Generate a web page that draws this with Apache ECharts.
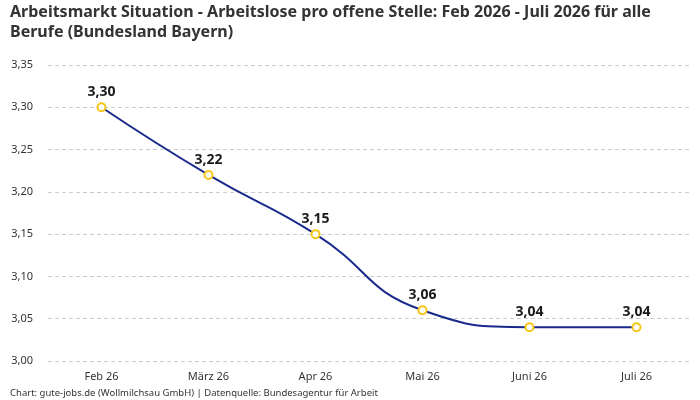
<!DOCTYPE html>
<html>
<head>
<meta charset="utf-8">
<script src="https://cdn.jsdelivr.net/npm/echarts@6/dist/echarts.min.js"></script>
<style>
html, body { margin: 0; padding: 0; background: #fff; }
#chart { width: 700px; height: 400px; }
</style>
</head>
<body>
<div id="chart"></div>
<script>
var categories = ['Feb 26', 'März 26', 'Apr 26', 'Mai 26', 'Juni 26', 'Juli 26'];
var values = [3.30, 3.22, 3.15, 3.06, 3.04, 3.04];
var yMin = 3.00;
var yMax = 3.35;
var yStep = 0.05;

function komma(v, n) {
    return v.toFixed(n).replace('.', ',');
}

var myChart = echarts.init(document.getElementById('chart'));

var option = {
    backgroundColor: '#ffffff',
    textStyle: { fontFamily: 'Noto Sans' },
    title: {
        text: 'Arbeitsmarkt Situation - Arbeitslose pro offene Stelle: Feb 2026 - Juli 2026 für alle\nBerufe (Bundesland Bayern)',
        left: 5,
        top: -3,
        textStyle: {
            fontFamily: 'Noto Sans',
            fontSize: 16,
            fontWeight: 'bold',
            color: '#333333',
            lineHeight: 20
        }
    },
    grid: {
        left: 48,
        right: 10,
        top: 65,
        bottom: 39,
        outerBoundsMode: 'none'
    },
    xAxis: {
        type: 'category',
        data: categories,
        boundaryGap: true,
        axisLine: { show: false },
        axisTick: { show: false },
        axisLabel: {
            color: '#333333',
            fontSize: 11,
            margin: 10
        }
    },
    yAxis: {
        type: 'value',
        min: yMin,
        max: yMax,
        interval: yStep,
        axisLine: { show: false },
        axisTick: { show: false },
        axisLabel: {
            color: '#333333',
            fontSize: 11,
            margin: 15,
            formatter: function (v) { return komma(v, 2); }
        },
        splitLine: {
            lineStyle: { color: '#cccccc', type: [4, 3] }
        }
    },
    series: [{
        type: 'line',
        data: values,
        smooth: 0.5,
        symbol: 'circle',
        symbolSize: 8,
        lineStyle: { color: '#1a2a8c', width: 2 },
        itemStyle: {
            color: '#ffffff',
            borderColor: '#f5c518',
            borderWidth: 2
        },
        label: {
            show: true,
            position: 'top',
            distance: 3,
            color: '#1a1a1a',
            fontSize: 14,
            fontWeight: 'bold',
            formatter: function (p) { return komma(p.value, 2); }
        }
    }],
    graphic: [{
        type: 'text',
        left: 10,
        top: 388,
        style: {
            text: 'Chart: gute-jobs.de (Wollmilchsau GmbH) | Datenquelle: Bundesagentur für Arbeit',
            fontFamily: 'Noto Sans',
            fontSize: 9.5,
            fill: '#333333'
        }
    }]
};

myChart.setOption(option);
</script>
</body>
</html>
